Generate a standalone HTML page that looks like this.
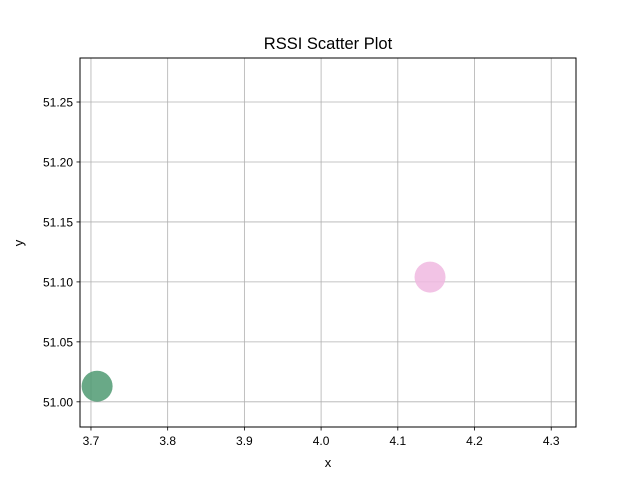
<!DOCTYPE html>
<html><head><meta charset="utf-8"><style>
body{margin:0;background:#fff;}
svg text{font-family:"Liberation Sans","DejaVu Sans",sans-serif;fill:#000;}
</style></head><body>
<svg id="chart" width="640" height="480">
<rect width="640" height="480" fill="#fff"/>
<text x="328" y="49" font-size="16.5" text-anchor="middle">RSSI Scatter Plot</text>
<g id="grid"></g>
<g id="points"></g>
<rect x="80" y="58" width="496" height="369" fill="none" stroke="#000" stroke-width="1"/>
<g id="ticks"></g>
<text x="328" y="467" font-size="13" text-anchor="middle">x</text>
<text x="23" y="243" font-size="13" text-anchor="middle" transform="rotate(-90 23 243)">y</text>
</svg>
<script>
const xTicks=[3.7,3.8,3.9,4.0,4.1,4.2,4.3];
const xTickLabels=["3.7","3.8","3.9","4.0","4.1","4.2","4.3"];
const yTicks=[51.00,51.05,51.10,51.15,51.20,51.25];
const yTickLabels=["51.00","51.05","51.10","51.15","51.20","51.25"];
const xValues=[3.708,4.142];
const yValues=[51.013,51.104];
const pointColors=["#4f9a72","#f0b8e0"];
const NS="http://www.w3.org/2000/svg";
const X0=80,X1=576,Y0=427,Y1=58;
const xMin=3.6857,xMax=4.3323,yMin=50.979,yMax=51.2867;
function sx(v){return X0+(v-xMin)/(xMax-xMin)*(X1-X0);}
function sy(v){return Y0-(v-yMin)/(yMax-yMin)*(Y0-Y1);}
function mk(t,a,p){const e=document.createElementNS(NS,t);for(const k in a)e.setAttribute(k,a[k]);p.appendChild(e);return e;}
const grid=document.getElementById('grid'),ticks=document.getElementById('ticks'),pts=document.getElementById('points');
xTicks.forEach((v,i)=>{const x=sx(v);
 const g=mk('line',{x1:x,x2:x,y1:Y1,y2:Y0,stroke:'#b0b0b0','stroke-width':0.8},grid);
 
 mk('line',{x1:x,x2:x,y1:Y0,y2:Y0+3.5,stroke:'#000','stroke-width':0.8},ticks);
 const t=mk('text',{x:x,y:Y0+18,'font-size':12,'text-anchor':'middle'},ticks);t.textContent=xTickLabels[i];
 });
yTicks.forEach((v,i)=>{const y=sy(v);
 const g=mk('line',{x1:X0,x2:X1,y1:y,y2:y,stroke:'#b0b0b0','stroke-width':0.8},grid);
 
 mk('line',{x1:X0-3.5,x2:X0,y1:y,y2:y,stroke:'#000','stroke-width':0.8},ticks);
 const t=mk('text',{x:X0-7,y:y+4.5,'font-size':12,'text-anchor':'end'},ticks);t.textContent=yTickLabels[i];
 });
xValues.forEach((v,i)=>{
 const c=mk('circle',{cx:sx(v),cy:sy(yValues[i]),r:15.5,fill:pointColors[i],'fill-opacity':0.85},pts);
 });
</script>
</body></html>
